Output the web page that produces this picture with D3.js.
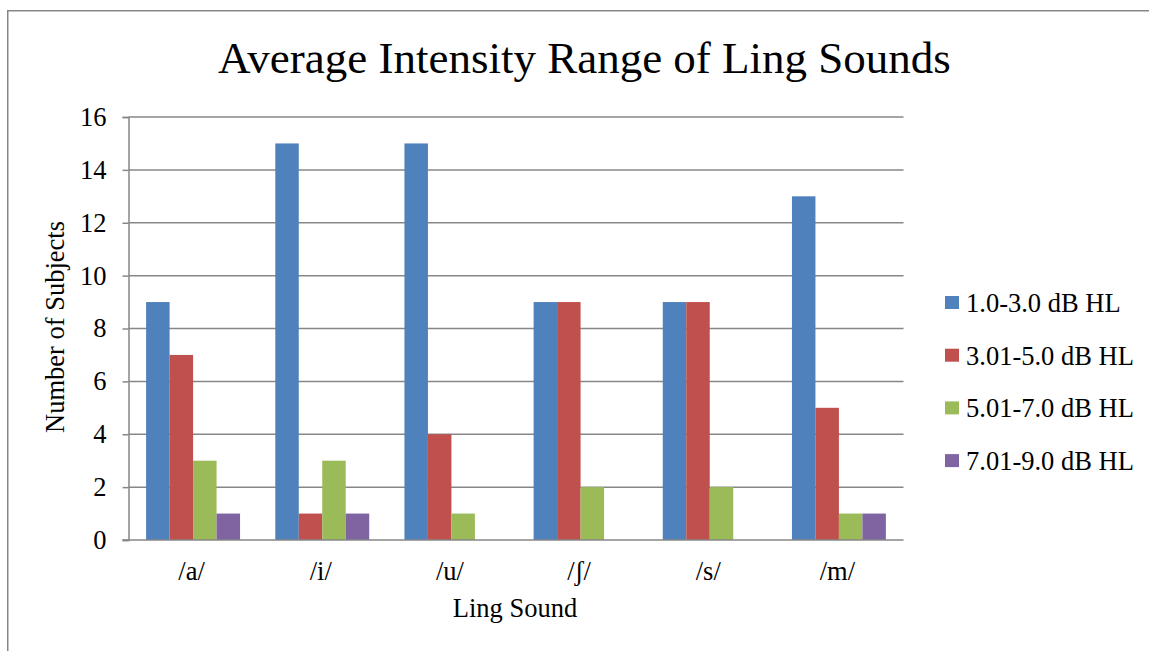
<!DOCTYPE html>
<html>
<head>
<meta charset="utf-8">
<script src="https://cdn.jsdelivr.net/npm/d3@7"></script>
<style>
  html, body { margin: 0; padding: 0; background: #fff; }
  svg { display: block; }
  svg text { font-family: "Liberation Serif", "Times New Roman", serif; fill: #000; }
</style>
</head>
<body>
<svg id="chart" width="1149" height="651"></svg>
<script>
// Ling sounds on the x axis
const sounds = ["/a/", "/i/", "/u/", "/ʃ/", "/s/", "/m/"];
// Intensity ranges (one bar per range in each group)
const ranges = ["1.0-3.0 dB HL", "3.01-5.0 dB HL", "5.01-7.0 dB HL", "7.01-9.0 dB HL"];
// Number of subjects per range, indexed like `sounds`
const range1 = [9, 15, 15, 9, 9, 13];
const range2 = [7, 1, 4, 9, 9, 5];
const range3 = [3, 3, 1, 2, 2, 1];
const range4 = [1, 1, 0, 0, 0, 1];
const yTicks = [0, 2, 4, 6, 8, 10, 12, 14, 16];
const colors = ["#4F81BD", "#C0504D", "#9BBB59", "#8064A2"];

const series = [range1, range2, range3, range4];
const FONT = "'Liberation Serif', 'Times New Roman', serif";
const LABEL_SIZE = 26.5;

const svg = d3.select("#chart");

// outer chart frame
svg.append("path")
  .attr("d", "M7.75,651 L7.75,10.75 L1149,10.75")
  .attr("fill", "none")
  .attr("stroke", "#878787")
  .attr("stroke-width", 1.5);

const plot = { left: 128.5, right: 903.5, top: 117, bottom: 540 };

const x0 = d3.scaleBand().domain(sounds).range([plot.left, plot.right]);
const barW = x0.bandwidth() / 5.5;
const x1 = d3.scaleBand().domain(d3.range(ranges.length)).range([0, barW * 4]);
const y = d3.scaleLinear().domain([0, 16]).range([plot.bottom, plot.top]);

// gridlines
svg.append("g")
  .selectAll("line")
  .data(yTicks.filter(d => d > 0))
  .join("line")
  .attr("x1", plot.left).attr("x2", plot.right)
  .attr("y1", d => y(d)).attr("y2", d => y(d))
  .attr("stroke", "#878787").attr("stroke-width", 1.5);

// bars
const groups = svg.append("g")
  .selectAll("g")
  .data(sounds)
  .join("g")
  .attr("transform", d => `translate(${x0(d) + barW * 0.75},0)`);

groups.selectAll("rect")
  .data((d, i) => series.map((s, k) => ({ k, v: s[i] })))
  .join("rect")
  .attr("x", d => x1(d.k))
  .attr("width", x1.bandwidth())
  .attr("y", d => y(d.v))
  .attr("height", d => y(0) - y(d.v))
  .attr("fill", d => colors[d.k]);

// y axis
const yAxis = svg.append("g")
  .attr("transform", `translate(${plot.left},0)`)
  .call(d3.axisLeft(y).tickValues(yTicks).tickSize(6).tickPadding(16).tickFormat(d3.format("d")));
yAxis.attr("font-family", FONT).attr("font-size", LABEL_SIZE);
yAxis.select(".domain").attr("stroke", "#878787").attr("stroke-width", 1.5);
yAxis.selectAll(".tick line").attr("stroke", "#878787").attr("stroke-width", 1.5);
yAxis.selectAll(".tick text").attr("fill", "#000");

// x axis baseline
svg.append("line")
  .attr("x1", plot.left - 6).attr("x2", plot.right)
  .attr("y1", plot.bottom).attr("y2", plot.bottom)
  .attr("stroke", "#878787").attr("stroke-width", 1.5);

// x category labels
svg.append("g")
  .selectAll("text")
  .data(sounds)
  .join("text")
  .attr("x", d => x0(d) + x0.bandwidth() / 2 - 1.5)
  .attr("y", 580)
  .attr("text-anchor", "middle")
  .attr("font-family", FONT)
  .attr("font-size", LABEL_SIZE)
  .text(d => d);

// axis titles
svg.append("text")
  .attr("x", 515).attr("y", 617)
  .attr("text-anchor", "middle")
  .attr("font-family", FONT)
  .attr("font-size", LABEL_SIZE)
  .text("Ling Sound");

svg.append("text")
  .attr("transform", "translate(64,327) rotate(-90)")
  .attr("text-anchor", "middle")
  .attr("font-family", FONT)
  .attr("font-size", LABEL_SIZE)
  .text("Number of Subjects");

// title
svg.append("text")
  .attr("x", 584.5).attr("y", 73)
  .attr("text-anchor", "middle")
  .attr("font-family", FONT)
  .attr("font-size", 45)
  .text("Average Intensity Range of Ling Sounds");

// legend
const legend = svg.append("g")
  .selectAll("g")
  .data(ranges)
  .join("g")
  .attr("transform", (d, i) => `translate(945,${303 + i * 52.7})`);
legend.append("rect")
  .attr("x", 0).attr("y", -7).attr("width", 14).attr("height", 13)
  .attr("fill", (d, i) => colors[i]);
legend.append("text")
  .attr("x", 21).attr("y", 9)
  .attr("font-family", FONT)
  .attr("font-size", LABEL_SIZE)
  .text(d => d);
</script>
</body>
</html>
